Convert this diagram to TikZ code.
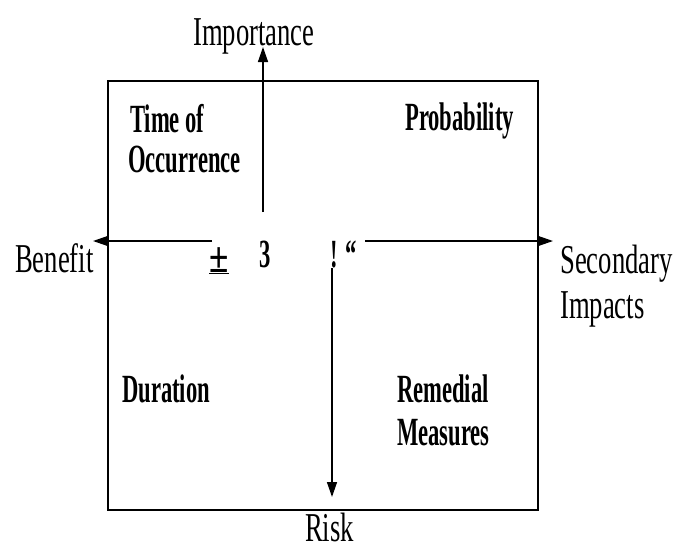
\documentclass[tikz,border=0pt]{standalone}
\usepackage{fontspec}
\setmainfont{Liberation Serif}
\newfontfamily\regf{Liberation Serif}[FakeStretch=0.65]
\newfontfamily\boldf{Liberation Serif}[FakeStretch=0.565]
\newfontfamily\pmf{Liberation Serif}[FakeStretch=0.8]
\usetikzlibrary{arrows.meta}
\begin{document}
\begin{tikzpicture}[x=1pt,y=-1pt,
  lab/.style={inner sep=0pt, anchor=base west, font=\fontsize{41}{45}\selectfont\regf},
  blab/.style={inner sep=0pt, anchor=base west, font=\fontsize{40}{44}\selectfont\boldf\bfseries},
  axisarrow/.style={line width=1.4pt, -{Triangle[length=15pt,width=10pt]}}]
\useasboundingbox (0,0) rectangle (673,550);
\draw[line width=1.3pt] (108,81) rectangle (538,510);
% axis coordinates
\coordinate (impS) at (263,212);
\coordinate (impE) at (263,47);
\coordinate (benS) at (212,241);
\coordinate (benE) at (93,241);
\coordinate (secS) at (365,241);
\coordinate (secE) at (553,241);
\coordinate (riskS) at (332,268);
\coordinate (riskE) at (332,497);
\draw[axisarrow] (impS) -- (impE);
\draw[axisarrow] (benS) -- (benE);
\draw[axisarrow] (secS) -- (secE);
\draw[axisarrow] (riskS) -- (riskE);
% outer labels
\node[lab] (importance) at (193,45) {Importance};
\node[lab] (benefit) at (15,272) {Benefit};
\node[lab] (secondary) at (560,273) {Secondary};
\node[lab] (impacts) at (560,318) {Impacts};
\node[lab] (risk) at (305,541) {Risk};
% quadrant labels
\node[blab] (time) at (130,132) {Time of};
\node[blab] (occ) at (128,172) {Occurrence};
\node[blab] (prob) at (405,130) {Probability};
\node[blab] (dur) at (122,402) {Duration};
\node[blab] (rem) at (397,402) {Remedial};
\node[blab] (meas) at (397,445) {Measures};
% centre symbols
\node[blab, anchor=base, font=\fontsize{44}{48}\selectfont\pmf\bfseries] (pm) at (219,272) {\underline{±}};
\node[blab] (three) at (259,267) {3};
\node[blab] (excl) at (330,267) {! “};
\end{tikzpicture}
\end{document}
